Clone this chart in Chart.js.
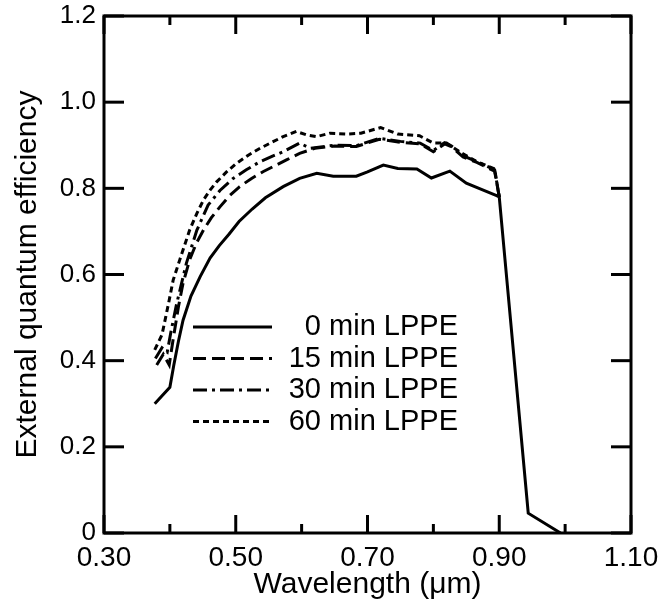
<!DOCTYPE html>
<html>
<head>
<meta charset="utf-8">
<title>External quantum efficiency vs wavelength</title>
<script src="https://cdn.jsdelivr.net/npm/chart.js@4.4.0/dist/chart.umd.min.js"></script>
<style>
  html, body { margin: 0; padding: 0; background: #fff; }
  #wrap { width: 659px; height: 608px; position: relative; }
</style>
</head>
<body>
<div id="wrap"><canvas id="eqeChart"></canvas></div>
<script>
/* EQE curves, one wavelength/efficiency pair per LPPE time */

const seriesLabels = ['0 min LPPE', '15 min LPPE', '30 min LPPE', '60 min LPPE'];

const wl0 = [0.377, 0.400, 0.406, 0.413, 0.420, 0.432, 0.446, 0.461, 0.475, 0.490, 0.505, 0.525, 0.545, 0.572, 0.597, 0.623, 0.648, 0.683, 0.700, 0.724, 0.746, 0.775, 0.797, 0.825, 0.850, 0.872, 0.896, 0.900, 0.944, 0.993];
const eqe0 = [0.300, 0.338, 0.390, 0.445, 0.494, 0.550, 0.595, 0.638, 0.667, 0.694, 0.723, 0.752, 0.778, 0.804, 0.823, 0.835, 0.828, 0.828, 0.838, 0.854, 0.846, 0.845, 0.824, 0.840, 0.812, 0.798, 0.783, 0.780, 0.046, 0.000];

const wl15 = [0.380, 0.390, 0.399, 0.405, 0.413, 0.420, 0.430, 0.440, 0.451, 0.463, 0.476, 0.490, 0.506, 0.524, 0.542, 0.560, 0.577, 0.597, 0.620, 0.650, 0.683, 0.718, 0.750, 0.780, 0.800, 0.817, 0.827, 0.845, 0.866, 0.893, 0.900];
const eqe15 = [0.390, 0.415, 0.390, 0.450, 0.525, 0.580, 0.634, 0.672, 0.703, 0.732, 0.757, 0.782, 0.804, 0.823, 0.839, 0.853, 0.866, 0.881, 0.893, 0.898, 0.897, 0.914, 0.907, 0.903, 0.885, 0.903, 0.897, 0.873, 0.860, 0.840, 0.780];

const wl30 = [0.378, 0.388, 0.396, 0.402, 0.410, 0.425, 0.441, 0.458, 0.476, 0.496, 0.516, 0.537, 0.555, 0.572, 0.597, 0.613, 0.650, 0.683, 0.718, 0.750, 0.780, 0.800, 0.817, 0.827, 0.845, 0.866, 0.893, 0.900];
const eqe30 = [0.405, 0.430, 0.420, 0.470, 0.530, 0.626, 0.703, 0.761, 0.795, 0.823, 0.843, 0.862, 0.874, 0.885, 0.905, 0.893, 0.900, 0.899, 0.916, 0.909, 0.905, 0.888, 0.906, 0.899, 0.876, 0.862, 0.843, 0.780];

const wl60 = [0.377, 0.388, 0.398, 0.405, 0.415, 0.430, 0.441, 0.451, 0.461, 0.471, 0.486, 0.501, 0.519, 0.537, 0.555, 0.572, 0.592, 0.608, 0.623, 0.643, 0.668, 0.690, 0.720, 0.746, 0.779, 0.800, 0.820, 0.845, 0.866, 0.893, 0.900];
const eqe60 = [0.425, 0.460, 0.533, 0.587, 0.634, 0.703, 0.742, 0.773, 0.796, 0.815, 0.838, 0.858, 0.877, 0.893, 0.907, 0.920, 0.932, 0.924, 0.920, 0.928, 0.926, 0.928, 0.941, 0.926, 0.922, 0.905, 0.905, 0.880, 0.862, 0.845, 0.780];

const xTicks = [0.30, 0.50, 0.70, 0.90, 1.10];   // labelled wavelength ticks
const yTicks = [0, 0.2, 0.4, 0.6, 0.8, 1.0, 1.2];

const FONT = 'Liberation Sans, Arial, Helvetica, sans-serif';
const dashes = [[], [13, 6], [14, 5, 3, 5], [6, 4]];

function pts(xs, ys) { return xs.map((v, i) => ({ x: v, y: ys[i] })); }

const allX = [wl0, wl15, wl30, wl60];
const allY = [eqe0, eqe15, eqe30, eqe60];

// frame + inward ticks on all four sides
const framePlugin = {
  id: 'frame',
  afterDatasetsDraw(chart) {
    const { ctx, chartArea: a, scales: { x, y } } = chart;
    const seg = (x1, y1, x2, y2) => { ctx.beginPath(); ctx.moveTo(x1, y1); ctx.lineTo(x2, y2); ctx.stroke(); };
    ctx.save();
    ctx.strokeStyle = '#000';
    ctx.lineWidth = 3;
    ctx.lineCap = 'butt';
    ctx.strokeRect(a.left, a.top, a.right - a.left, a.bottom - a.top);
    y.ticks.forEach(t => {
      const py = y.getPixelForValue(t.value);
      seg(a.left, py, a.left + 20, py);
      seg(a.right - 20, py, a.right, py);
    });
    x.ticks.forEach(t => {
      const px = x.getPixelForValue(t.value);
      const len = t.label ? 18 : 9;
      seg(px, a.bottom, px, a.bottom - len);
      seg(px, a.top, px, a.top + len);
    });
    ctx.restore();
  }
};

// legend inside the plot, text right aligned like the original
const legendPlugin = {
  id: 'lppeLegend',
  afterDraw(chart) {
    const { ctx } = chart;
    const x0 = 193, x1 = 272, textRight = 458, top = 327, step = 31.5;
    ctx.save();
    ctx.font = '29px ' + FONT;
    ctx.fillStyle = '#000';
    ctx.textAlign = 'right';
    ctx.textBaseline = 'middle';
    chart.data.datasets.forEach((ds, i) => {
      const yy = top + i * step;
      ctx.strokeStyle = '#000';
      ctx.lineWidth = 3;
      ctx.setLineDash(ds.borderDash || []);
      ctx.beginPath();
      ctx.moveTo(x0, yy);
      ctx.lineTo(x1, yy);
      ctx.stroke();
      ctx.setLineDash([]);
      ctx.fillText(ds.label, textRight, yy);
    });
    ctx.restore();
  }
};

Chart.defaults.font.family = FONT;
Chart.defaults.color = '#000';

new Chart(document.getElementById('eqeChart'), {
  type: 'line',
  data: {
    datasets: seriesLabels.map((lbl, i) => ({
      label: lbl,
      data: pts(allX[i], allY[i]),
      borderColor: '#000',
      borderWidth: 3,
      borderDash: dashes[i],
      pointRadius: 0,
      tension: 0,
      fill: false
    }))
  },
  options: {
    responsive: true,
    maintainAspectRatio: false,
    animation: false,
    layout: { padding: { top: 16, right: 28, left: 0, bottom: 0 } },
    plugins: { legend: { display: false }, tooltip: { enabled: false } },
    scales: {
      x: {
        type: 'linear',
        min: 0.3,
        max: 1.1,
        grid: { display: false, drawTicks: false },
        border: { display: false },
        ticks: {
          stepSize: 0.1,
          padding: 8,
          font: { size: 28 },
          maxRotation: 0,
          autoSkip: false,
          callback: (v) => {
            const r = Math.round(v * 100) / 100;
            return xTicks.some(t => Math.abs(t - r) < 1e-6) ? r.toFixed(2) : '';
          }
        },
        title: { display: true, text: 'Wavelength (\u03bcm)', font: { size: 30 }, padding: { top: 0, bottom: 5 } },
        afterFit: (s) => { s.height = 75; s.paddingLeft = 0; s.paddingRight = 0; }
      },
      y: {
        min: 0,
        max: 1.2,
        grid: { display: false, drawTicks: false },
        border: { display: false },
        afterBuildTicks: (s) => { s.ticks = yTicks.map(v => ({ value: v })); },
        ticks: {
          padding: 8,
          font: { size: 26 },
          callback: (v) => (v === 0 ? '0' : v.toFixed(1))
        },
        title: { display: true, text: 'External quantum efficiency', font: { size: 30 }, padding: { top: 10, bottom: 0 } },
        afterFit: (s) => { s.width = 104; s.paddingTop = 0; s.paddingBottom = 0; }
      }
    }
  },
  plugins: [framePlugin, legendPlugin]
});
</script>
</body>
</html>
